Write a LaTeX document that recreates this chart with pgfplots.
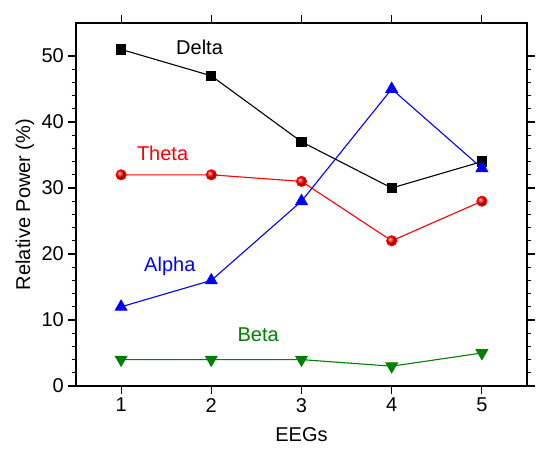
\documentclass[border=0pt]{standalone}
\usepackage{pgfplots}
\pgfplotsset{compat=1.18}
\usepackage{fontspec}
\setmainfont{Liberation Sans}
\definecolor{obgreen}{RGB}{0,128,0}
\newcommand{\bigf}{\fontsize{20}{24}\selectfont}
\begin{document}
\begin{tikzpicture}
\begin{axis}[
  scale only axis,
  width=451pt, height=363pt,
  at={(0pt,0pt)}, anchor=south west,
  xmin=0.5, xmax=5.5, ymin=0, ymax=55,
  xtick={1,2,3,4,5},
  ytick={0,10,20,30,40,50},
  minor y tick num=4,
  tick align=outside,
  major tick length=7.7pt,
  minor tick length=4.3pt,
  every tick/.style={black, line width=1.1pt},
  axis line style={line width=1.3pt},
  /pgf/number format/assume math mode=true,
  xticklabel style={font=\bigf, yshift=-1pt},
  yticklabel style={font=\bigf, xshift=-1pt},
  every axis x label/.style={at={(axis description cs:0.5,-0.135)}, anchor=center, font=\bigf},
  every axis y label/.style={at={(axis description cs:-0.113,0.5)}, rotate=90, anchor=center, font=\bigf},
  xlabel={EEGs},
  ylabel={Relative Power (\%)},
  clip=false,
]
\addplot[black, line width=1.1pt, mark=square*, mark size=4.6pt, mark options={solid}]
  coordinates {(1,51) (2,47) (3,37) (4,30) (5,34)};
\addplot[red, line width=1.1pt, mark=ball, mark size=5pt, mark options={ball color=red}]
  coordinates {(1,32) (2,32) (3,31) (4,22) (5,28)};
\addplot[blue, line width=1.1pt, mark=triangle*, mark size=6.5pt, mark options={solid}]
  coordinates {(1,12) (2,16) (3,28) (4,45) (5,33)};
\addplot[obgreen, line width=1.1pt, mark=triangle*, mark size=6.5pt, mark options={solid, rotate=180}]
  coordinates {(1,4) (2,4) (3,4) (4,3) (5,5)};
\node[font=\bigf, black] at (axis cs:1.87,51.3) {Delta};
\node[font=\bigf, red] at (axis cs:1.46,35.2) {Theta};
\node[font=\bigf, blue] at (axis cs:1.54,18.2) {Alpha};
\node[font=\bigf, obgreen] at (axis cs:2.52,7.8) {Beta};
\end{axis}
\path[use as bounding box] (-76pt,-67pt) rectangle (469pt,386pt);
\end{tikzpicture}
\end{document}
